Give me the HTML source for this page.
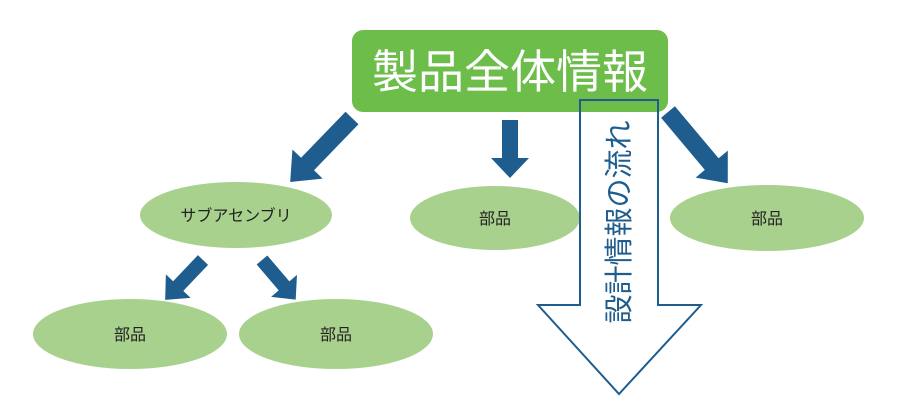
<!DOCTYPE html>
<html><head><meta charset="utf-8"><style>
html,body{margin:0;padding:0;background:#fff;width:900px;height:418px;overflow:hidden}
</style></head><body>
<svg width="900" height="418" viewBox="0 0 900 418" xmlns="http://www.w3.org/2000/svg" font-family="Liberation Sans, Noto Sans CJK JP, sans-serif">
<rect x="352" y="30" width="316" height="82" rx="11" fill="#6cbd4a"/>
<text x="510" y="88" text-anchor="middle" font-size="46" fill="#fff">製品全体情報</text>
<g fill="#a9d18e">
<ellipse cx="236" cy="215" rx="96" ry="33"/>
<ellipse cx="495" cy="218" rx="85" ry="32"/>
<ellipse cx="767" cy="218" rx="97" ry="33"/>
<ellipse cx="130" cy="334" rx="97" ry="35"/>
<ellipse cx="336" cy="334" rx="97" ry="35"/>
</g>
<g font-size="16" fill="#222" text-anchor="middle">
<text x="236" y="221">サブアセンブリ</text>
<text x="495" y="224">部品</text>
<text x="767" y="224">部品</text>
<text x="130" y="340">部品</text>
<text x="336" y="340">部品</text>
</g>
<g fill="#1f5d8f">
<path transform="translate(352,118) rotate(134)" d="M0,-9 L64,-9 L64,-21 L89,0 L64,21 L64,9 L0,9Z"/>
<path transform="translate(668,112) rotate(50)" d="M0,-9 L68,-9 L68,-21 L93,0 L68,21 L68,9 L0,9Z"/>
<path transform="translate(510,120) rotate(90)" d="M0,-8 L38,-8 L38,-19 L58,0 L38,19 L38,8 L0,8Z"/>
<path transform="translate(203,260) rotate(133.5)" d="M0,-7 L36,-7 L36,-17 L55,0 L36,17 L36,7 L0,7Z"/>
<path transform="translate(262,260) rotate(49.6)" d="M0,-7 L34,-7 L34,-17 L52,0 L34,17 L34,7 L0,7Z"/>
</g>
<path d="M580,100 L658,100 L658,305 L701,305 L619,394 L538,305 L580,305 Z" fill="none" stroke="#1f5d8f" stroke-width="2"/>
<text transform="translate(629,222) rotate(-90)" text-anchor="middle" font-size="29" fill="#1f5d8f">設計情報の流れ</text>
</svg>
</body></html>
